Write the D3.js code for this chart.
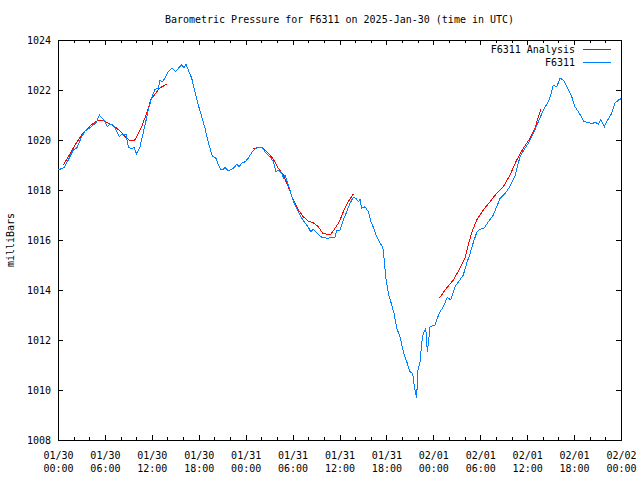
<!DOCTYPE html>
<html><head><meta charset="utf-8">
<script src="https://cdn.jsdelivr.net/npm/d3@7"></script>
<style>
body{margin:0;background:#fff}
svg{display:block}
text{font-family:"DejaVu Sans Mono","Liberation Mono",monospace;font-size:10px;fill:#000}
</style>
</head><body>
<svg id="chart" width="640" height="480"></svg>
<script>
// ---- DATA (hours since 2025-01-30 00:00 UTC, pressure in mb) ----
const titleText = "Barometric Pressure for F6311 on 2025-Jan-30 (time in UTC)";
const yLabel = "milliBars";
const seriesNames = ["F6311 Analysis", "F6311"];

const stationHours = [0.0,0.26,0.77,1.32,1.96,2.39,3.03,3.45,3.88,4.51,4.95,5.28,5.59,6.01,6.31,6.65,7.07,7.42,7.84,8.15,8.70,8.99,9.34,9.72,10.06,10.49,10.83,11.13,11.55,11.89,12.19,12.41,12.83,13.04,13.34,13.68,14.11,14.54,14.75,15.05,15.39,15.82,16.11,16.37,16.66,17.10,17.52,17.94,18.38,18.80,19.15,19.44,19.73,20.21,20.50,20.81,21.14,21.36,21.78,22.22,22.55,22.85,23.15,23.49,23.92,24.34,24.77,25.19,25.62,26.09,26.47,27.11,27.54,27.88,28.17,28.61,28.81,29.03,29.33,29.67,29.97,30.31,30.73,31.17,31.59,32.01,32.32,32.65,33.16,33.72,34.15,34.44,34.88,35.43,35.64,36.07,36.49,36.92,37.34,37.77,38.11,38.41,38.62,38.84,39.26,39.69,40.03,40.32,40.76,41.18,41.53,41.69,41.91,42.24,42.68,42.97,43.32,43.74,44.16,44.60,45.02,45.36,45.57,45.75,45.87,46.00,46.30,46.51,46.72,47.03,47.23,47.41,47.58,48.21,48.51,48.85,49.28,49.79,50.22,50.77,51.32,51.83,52.27,52.69,53.11,53.55,53.97,54.48,55.03,55.67,56.10,56.52,57.16,57.80,58.44,59.08,59.72,60.15,60.79,61.43,62.07,62.71,63.01,63.35,63.78,64.20,64.63,65.06,65.70,66.12,66.67,67.27,67.82,68.25,68.67,69.10,69.41,69.87,70.17,70.81,71.24,71.66,72.0];
const stationPressure = [1018.80,1018.83,1018.90,1019.20,1019.60,1019.67,1020.13,1020.36,1020.44,1020.60,1020.73,1021.00,1020.90,1020.73,1020.53,1020.63,1020.60,1020.40,1020.13,1020.23,1020.23,1019.73,1019.64,1019.70,1019.44,1019.73,1020.20,1020.60,1021.20,1021.60,1021.87,1022.03,1022.07,1022.40,1022.33,1022.47,1022.73,1022.87,1022.84,1022.73,1022.87,1023.00,1022.90,1023.03,1022.80,1022.47,1021.93,1021.40,1020.93,1020.47,1020.00,1019.67,1019.36,1019.27,1019.00,1018.83,1018.83,1018.90,1018.76,1018.83,1018.90,1019.03,1018.93,1019.07,1019.13,1019.27,1019.50,1019.64,1019.71,1019.71,1019.53,1019.33,1019.13,1018.73,1018.80,1018.67,1018.47,1018.60,1018.33,1018.00,1017.67,1017.40,1017.13,1016.87,1016.69,1016.51,1016.33,1016.43,1016.27,1016.11,1016.11,1016.04,1016.11,1016.11,1016.40,1016.40,1016.80,1017.13,1017.47,1017.71,1017.67,1017.53,1017.63,1017.27,1017.33,1017.13,1016.73,1016.51,1016.13,1015.87,1015.73,1015.27,1014.53,1013.87,1013.40,1013.07,1012.47,1012.13,1011.53,1011.13,1010.73,1010.67,1010.13,1009.87,1009.67,1010.73,1011.13,1011.87,1012.27,1012.47,1011.53,1012.00,1012.53,1012.60,1012.87,1013.13,1013.33,1013.71,1013.60,1014.13,1014.37,1014.60,1015.07,1015.45,1015.90,1016.30,1016.43,1016.47,1016.73,1017.00,1017.33,1017.65,1017.85,1018.15,1018.55,1019.33,1019.67,1019.87,1020.27,1020.73,1021.20,1021.53,1021.80,1022.20,1022.13,1022.47,1022.40,1022.13,1021.73,1021.33,1021.07,1020.73,1020.71,1020.64,1020.71,1020.64,1020.83,1020.53,1020.73,1021.07,1021.47,1021.60,1021.65];

// analysis: three separate runs, null marks a break
const analysisHours = [0.68,1.32,2.17,3.24,4.09,4.95,5.59,6.43,7.29,7.93,8.57,9.08,9.72,10.06,10.70,11.34,11.86,12.41,12.96,13.90,
  null,
  24.90,25.62,26.26,26.90,27.54,28.17,28.81,29.45,30.09,30.73,31.37,32.01,32.65,33.29,33.85,34.44,34.88,35.43,35.98,36.49,37.00,37.77,
  null,
  48.77,49.49,50.56,51.41,52.05,52.47,52.91,53.55,54.39,55.25,56.10,56.95,57.80,58.66,59.51,60.37,61.01,61.43,61.77];
const analysisPressure = [1019.00,1019.33,1019.80,1020.30,1020.57,1020.76,1020.80,1020.67,1020.53,1020.36,1020.13,1020.00,1019.96,1020.13,1020.53,1021.07,1021.60,1021.83,1022.07,1022.23,
  null,
  1019.63,1019.71,1019.67,1019.47,1019.23,1018.87,1018.60,1018.13,1017.60,1017.20,1016.93,1016.76,1016.69,1016.53,1016.27,1016.23,1016.23,1016.47,1016.73,1017.13,1017.47,1017.84,
  null,
  1013.67,1014.00,1014.40,1014.87,1015.27,1015.80,1016.30,1016.80,1017.20,1017.53,1017.87,1018.13,1018.60,1019.20,1019.67,1020.07,1020.47,1020.93,1021.23];

const xMajorHours = [0,6,12,18,24,30,36,42,48,54,60,66,72];
const xMinorHours = [2,4,8,10,14,16,20,22,26,28,32,34,38,40,44,46,50,52,56,58,62,64,68,70];
const yTickValues = [1008,1010,1012,1014,1016,1018,1020,1022,1024];

// ---- CHART ----
const t0 = Date.UTC(2025,0,30,0,0);
const toDate = h => new Date(t0 + h*3600e3);
const svg = d3.select("#chart");
const L = 58, R = 621, T = 40, B = 440;
const x = d3.scaleUtc().domain([toDate(0), toDate(72)]).range([L, R]);
const y = d3.scaleLinear().domain([1008, 1024]).range([B, T]);
const FONT = '"DejaVu Sans Mono","Liberation Mono",monospace';

function styleAxis(g){
  g.attr("font-family", FONT).attr("font-size", "10px");
  g.select(".domain").remove();
  g.selectAll(".tick line").attr("shape-rendering","crispEdges").attr("stroke","#000");
}

// bottom major with labels
const fmtD = d3.utcFormat("%m/%d"), fmtT = d3.utcFormat("%H:%M");
const gxb = svg.append("g").attr("transform", `translate(0,${B})`)
  .call(d3.axisBottom(x).tickValues(xMajorHours.map(toDate)).tickSizeInner(-5).tickSizeOuter(0).tickFormat(fmtD));
styleAxis(gxb);
gxb.selectAll(".tick text").each(function(d){
  const t = d3.select(this); t.text(null).attr("dy", null).attr("y", null);
  t.append("tspan").attr("x", 0).attr("y", 19).text(fmtD(d));
  t.append("tspan").attr("x", 0).attr("y", 32).text(fmtT(d));
});
// bottom minor
styleAxis(svg.append("g").attr("transform", `translate(0,${B})`)
  .call(d3.axisBottom(x).tickValues(xMinorHours.map(toDate)).tickSizeInner(-3).tickSizeOuter(0).tickFormat("")));
// top major / minor (mirrored, inward)
styleAxis(svg.append("g").attr("transform", `translate(0,${T})`)
  .call(d3.axisTop(x).tickValues(xMajorHours.map(toDate)).tickSizeInner(-5).tickSizeOuter(0).tickFormat("")));
styleAxis(svg.append("g").attr("transform", `translate(0,${T})`)
  .call(d3.axisTop(x).tickValues(xMinorHours.map(toDate)).tickSizeInner(-3).tickSizeOuter(0).tickFormat("")));

// left y axis
const gyl = svg.append("g").attr("transform", `translate(${L},0)`)
  .call(d3.axisLeft(y).tickValues(yTickValues).tickSizeInner(-5).tickSizeOuter(0).tickPadding(7).tickFormat(d3.format("d")));
styleAxis(gyl);
// right y axis (mirror, inward)
styleAxis(svg.append("g").attr("transform", `translate(${R},0)`)
  .call(d3.axisRight(y).tickValues(yTickValues).tickSizeInner(-5).tickSizeOuter(0).tickFormat("")));

// border
svg.append("rect").attr("x", L+0.5).attr("y", T+0.5).attr("width", R-L).attr("height", B-T)
  .attr("fill","none").attr("stroke","#000").attr("shape-rendering","crispEdges");

// data lines
const stationData = stationHours.map((h,i)=>({t: toDate(h), v: stationPressure[i]}));
const analysisData = analysisHours.map((h,i)=>({t: h==null?null:toDate(h), v: analysisPressure[i]}));
const line = d3.line().defined(d => d.t != null && d.v != null).x(d => x(d.t)).y(d => y(d.v));

svg.append("path").datum(analysisData).attr("d", line)
  .attr("fill","none").attr("stroke","#ff0000").attr("stroke-width",1).attr("shape-rendering","crispEdges");
svg.append("path").datum(stationData).attr("d", line)
  .attr("fill","none").attr("stroke","#0080ff").attr("stroke-width",1).attr("shape-rendering","crispEdges");

// title
svg.append("text").attr("x", (L+R)/2).attr("y", 23).attr("text-anchor","middle").text(titleText);
// y label
svg.append("text").attr("transform", "translate(14,240) rotate(-90)").attr("text-anchor","middle").text(yLabel);

// legend
const legColors = ["#ff0000", "#0080ff"];
seriesNames.forEach((n,i)=>{
  const yy = 49.5 + i*13;
  svg.append("text").attr("x", 575).attr("y", yy+3.5).attr("text-anchor","end").text(n);
  svg.append("line").attr("x1", 583).attr("x2", 611).attr("y1", yy).attr("y2", yy)
    .attr("stroke", legColors[i]).attr("stroke-width",1).attr("shape-rendering","crispEdges");
});
</script>
</body></html>
